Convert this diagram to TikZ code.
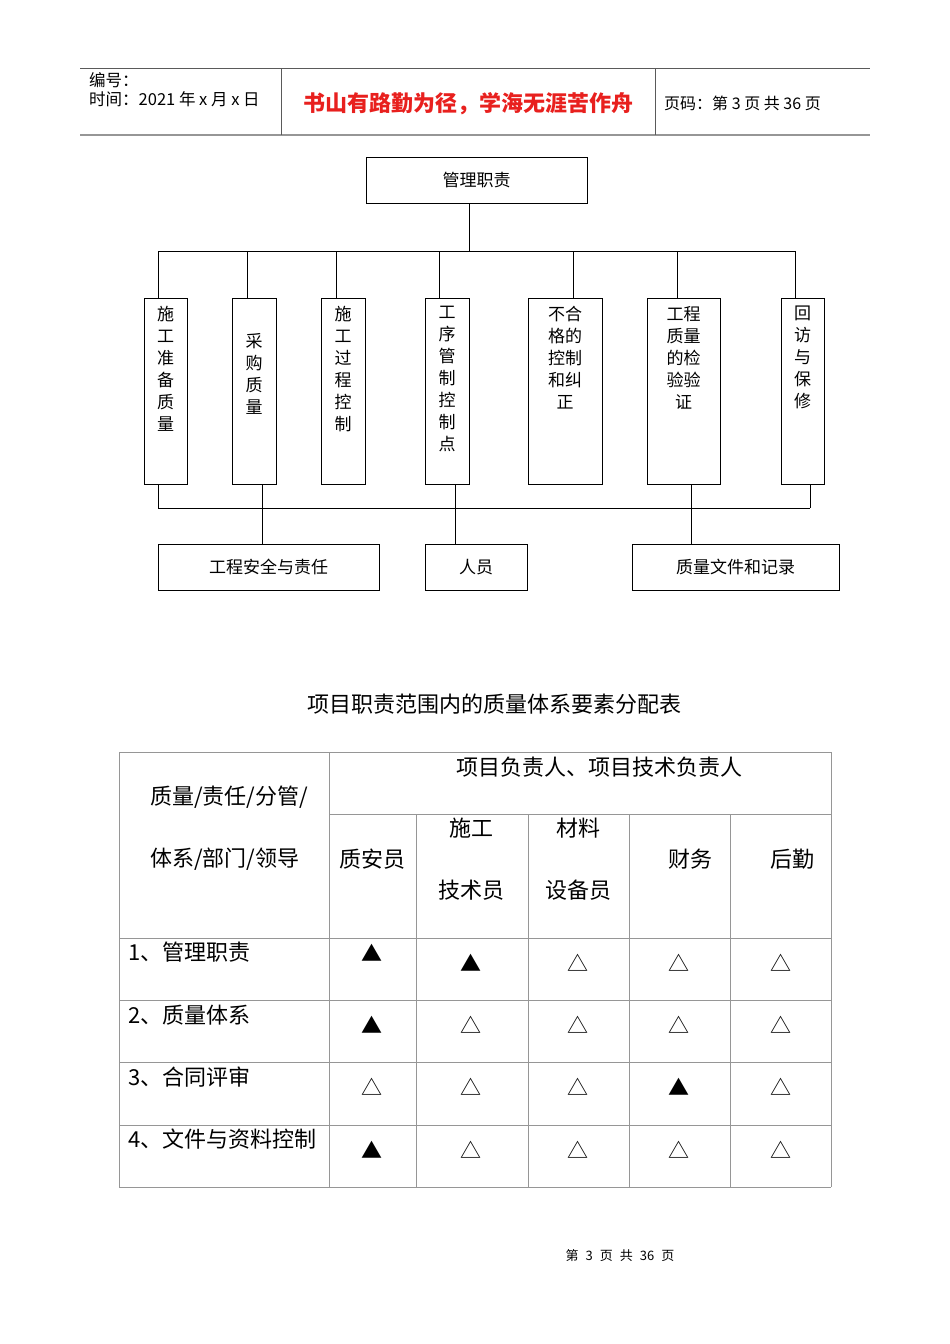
\documentclass[tikz,border=0pt]{standalone}
\usepackage{fontspec}
\setmainfont{Noto Sans CJK SC}
\usetikzlibrary{calc}
\definecolor{motto}{RGB}{232,32,30}
\definecolor{rulec}{RGB}{90,90,90}
\definecolor{gridc}{RGB}{150,150,150}
\tikzset{orgbox/.style={draw,inner sep=0pt,minimum height=46pt,font=\fontsize{17}{22}\selectfont}}
\tikzset{colbox/.style={draw,anchor=north,minimum height=186pt,inner sep=0pt}}
\tikzset{coltext/.style={anchor=north,align=center,inner sep=0pt,yshift=-8pt,font=\fontsize{17}{22}\selectfont}}
\tikzset{cell/.style={inner sep=0pt,font=\fontsize{22}{22}\selectfont}}
\tikzset{tri/.style={inner sep=0pt,font=\fontsize{21}{21}\selectfont}}
\tikzset{tline/.style={draw=gridc,line width=0.8pt}}

\begin{document}
\begin{tikzpicture}[x=1pt,y=-1pt]
    \useasboundingbox (0,0) rectangle (950,1344);

    % header
    \draw[rulec,line width=0.8pt] (80,68) -- (870,68);
    \draw[gridc,line width=2.2pt] (80,135) -- (870,135);
    \draw[rulec,line width=0.6pt] (281,68) -- (281,135);
    \draw[rulec,line width=0.6pt] (655,68) -- (655,135);
    \node[anchor=west,inner sep=0pt,font=\fontsize{16.5}{16.5}\selectfont] (num) at (89,80) {编号：};
    \node[anchor=west,inner sep=0pt,font=\fontsize{16.5}{16.5}\selectfont] (date) at (89,99) {时间：2021 年 x 月 x 日};
    \node[inner sep=0pt,text=motto,font=\fontsize{22}{22}\selectfont\bfseries] (motto) at (468,104) {书山有路勤为径，学海无涯苦作舟};
    \node[anchor=west,inner sep=0pt,font=\fontsize{16}{16}\selectfont] (page) at (664,103) {页码：第 3 页 共 36 页};

    % chart
    \node[orgbox,minimum width=221pt] (top) at (476.5,180) {管理职责};

    \node[colbox,minimum width=43pt,label={[coltext]north:施\\工\\准\\备\\质\\量}] (b1) at (165.5,298) {};
    \node[colbox,minimum width=44pt,label={[coltext,yshift=-27pt]north:采\\购\\质\\量}] (b2) at (254,298) {};
    \node[colbox,minimum width=44pt,label={[coltext]north:施\\工\\过\\程\\控\\制}] (b3) at (343,298) {};
    \node[colbox,minimum width=44pt,label={[coltext]north:工\\序\\管\\制\\控\\制\\点}] (b4) at (447,298) {};
    \node[colbox,minimum width=74pt,label={[coltext]north:不合\\格的\\控制\\和纠\\正}] (b5) at (565,298) {};
    \node[colbox,minimum width=73pt,label={[coltext]north:工程\\质量\\的检\\验验\\证}] (b6) at (683.5,298) {};
    \node[colbox,minimum width=43pt,label={[coltext]north:回\\访\\与\\保\\修}] (b7) at (802.5,298) {};

    \node[orgbox,minimum width=221pt] (s1) at (268.5,567) {工程安全与责任};
    \node[orgbox,minimum width=102pt] (s2) at (476,567) {人员};
    \node[orgbox,minimum width=207pt] (s3) at (735.5,567) {质量文件和记录};

    \coordinate (t0) at (469,251);
    \foreach \i/\x in {1/158,2/247,3/336,4/439,5/573,6/677,7/795}
        \coordinate (t\i) at (\x,251);
    \draw (t1) -- (t7);
    \draw (top.south -| t0) -- (t0);
    \foreach \i in {1,...,7}
        \draw (t\i) -- (t\i |- b\i.north);

    \coordinate (u1) at (158,508);
    \coordinate (u2) at (262,508);
    \coordinate (u4) at (455,508);
    \coordinate (u6) at (691,508);
    \coordinate (u7) at (810,508);
    \draw (u1) -- (u7);
    \draw (u1 |- b1.south) -- (u1);
    \draw (u7 |- b7.south) -- (u7);
    \draw (u2 |- b2.south) -- (u2 |- s1.north);
    \draw (u4 |- b4.south) -- (u4 |- s2.north);
    \draw (u6 |- b6.south) -- (u6 |- s3.north);

    % table
    \node[font=\fontsize{22}{22}\selectfont,inner sep=0pt] (title) at (494,704) {项目职责范围内的质量体系要素分配表};

    \foreach \y in {752,938,1000,1062,1125,1187}
        \draw[tline] (119,\y) -- (831,\y);
    \draw[tline] (329,814) -- (831,814);
    \foreach \x in {119,329,831}
        \draw[tline] (\x,752) -- (\x,1187);
    \foreach \x in {416,528,629,730}
        \draw[tline] (\x,814) -- (\x,1187);

    \node[cell] (lead) at (599,767) {项目负责人、项目技术负责人};
    \node[cell,anchor=west] (area1) at (150,797) {质量/责任/分管/};
    \node[cell,anchor=west] (area2) at (150,859) {体系/部门/领导};
    \node[cell] (qa) at (372,859) {质安员};
    \node[cell] (tech1) at (471,828) {施工};
    \node[cell] (tech2) at (471,890) {技术员};
    \node[cell] (mat1) at (578,828) {材料};
    \node[cell] (mat2) at (578,890) {设备员};
    \node[cell] (fin) at (690,859) {财务};
    \node[cell] (logi) at (792,859) {后勤};

    \foreach \lab/\y [count=\i] in {1、管理职责/952,2、质量体系/1015,3、合同评审/1077,4、文件与资料控制/1139}
        \node[cell,anchor=west] (r\i) at (128,\y) {\lab};

    \node[tri] (m11) at (372,953) {▲};
    \foreach \c/\x/\s in {2/471/▲,3/578/△,4/679/△,5/781/△}
        \node[tri] (m1\c) at (\x,963) {\s};
    \foreach \c/\x/\s in {1/372/▲,2/471/△,3/578/△,4/679/△,5/781/△}
        \node[tri] (m2\c) at (\x,1025) {\s};
    \foreach \c/\x/\s in {1/372/△,2/471/△,3/578/△,4/679/▲,5/781/△}
        \node[tri] (m3\c) at (\x,1087) {\s};
    \foreach \c/\x/\s in {1/372/▲,2/471/△,3/578/△,4/679/△,5/781/△}
        \node[tri] (m4\c) at (\x,1150) {\s};

    % footer
    \node[inner sep=0pt,font=\fontsize{13}{13}\selectfont] (foot) at (620,1256) {\spaceskip=7pt\relax 第 3 页 共 36 页};
\end{tikzpicture}
\end{document}
